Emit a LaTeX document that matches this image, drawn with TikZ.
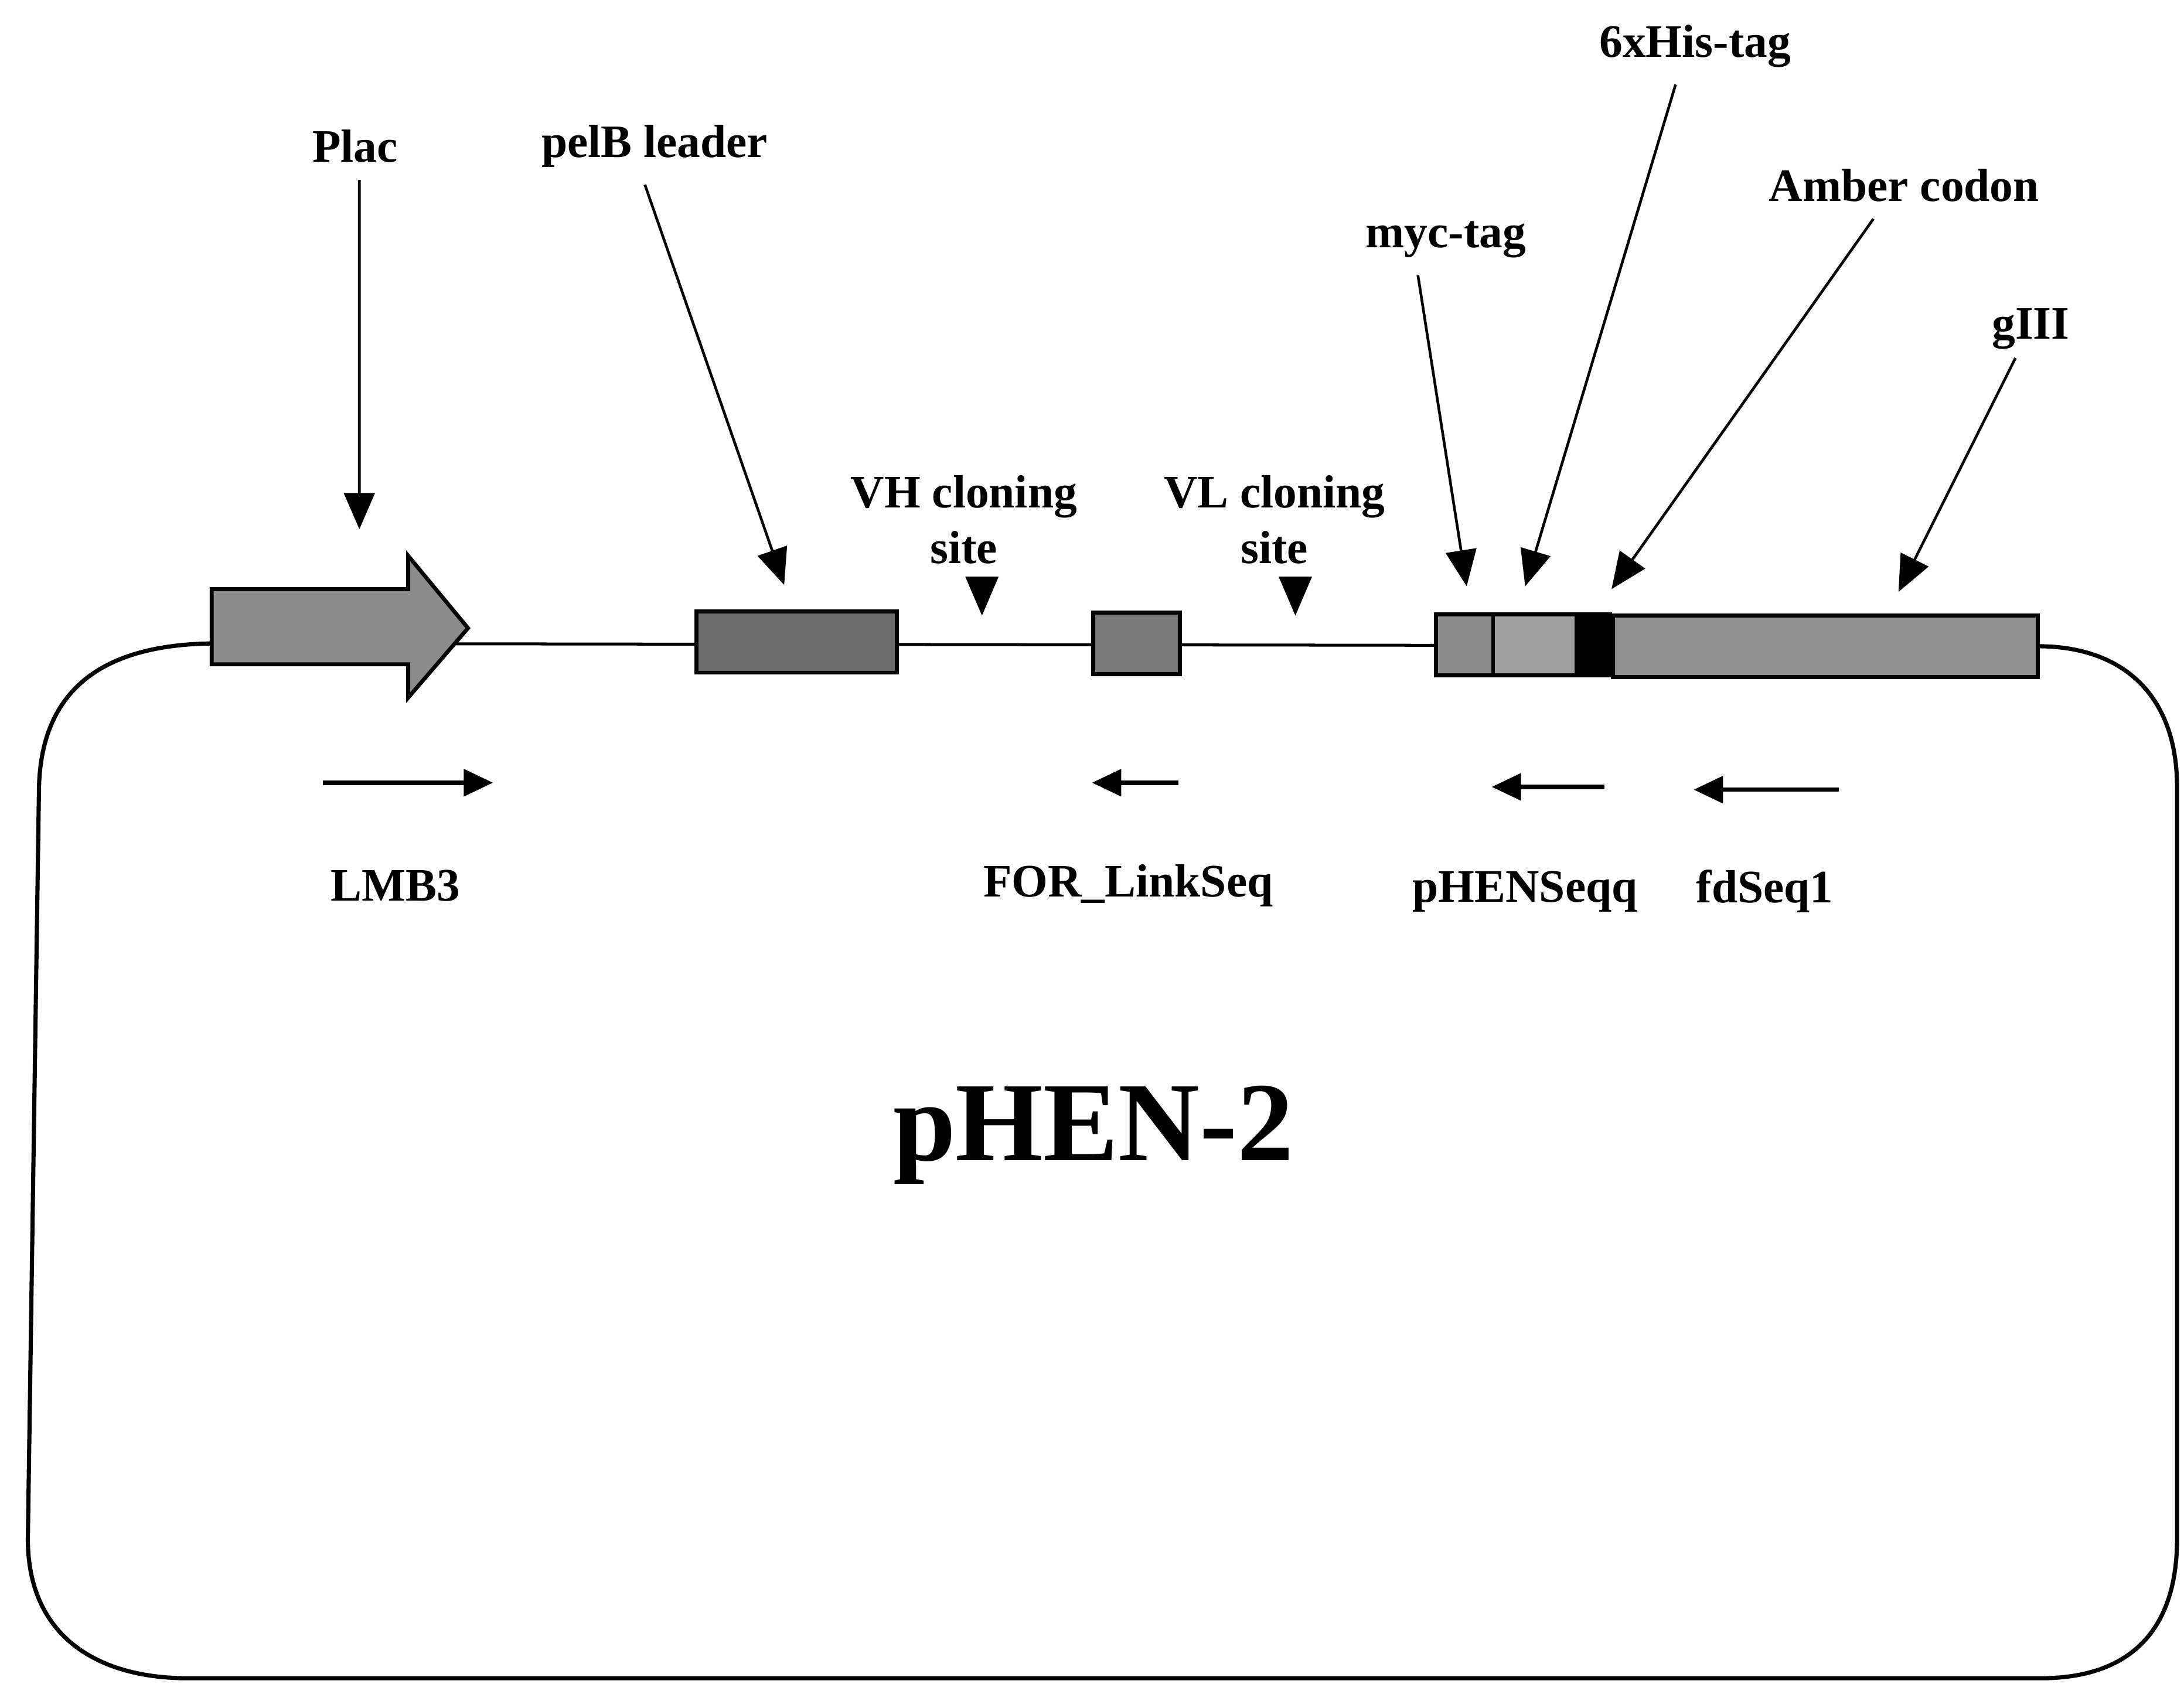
\documentclass[tikz,border=0pt]{standalone}
\usepackage{fontspec}
\setmainfont{Liberation Serif}
\usetikzlibrary{arrows.meta}

\definecolor{placgrey}{gray}{0.55}
\definecolor{pelbgrey}{gray}{0.42}
\definecolor{linkgrey}{gray}{0.48}
\definecolor{tailgrey}{gray}{0.56}

\begin{document}
\begin{tikzpicture}[x=0.01cm, y=-0.01cm, >={Triangle[length=0.26cm,width=0.22cm]},
        every node/.style={font=\bfseries\fontsize{9.5}{11.4}\selectfont},
        pointer/.style={->, line width=0.55pt},
        primer/.style={-{Triangle[length=0.21cm,width=0.19cm]}, line width=0.9pt},
        gene/.style={draw, line width=0.8pt, inner sep=0pt, minimum height=0.44cm}]
        \useasboundingbox (0,0) rectangle (1568,1209);
        % plasmid backbone
        \coordinate (bbL) at (152,462);
        \coordinate (bbR) at (1463,464);
        \draw[line width=0.6pt] (bbL) -- (bbR);
        \draw[line width=0.85pt] (bbL) .. controls (80,463) and (30,490) .. (28,565) -- (20,1105)
            .. controls (20,1175) and (70,1205) .. (135,1205) -- (1465,1205)
            .. controls (1530,1205) and (1563,1170) .. (1563,1105) -- (1563,565)
            .. controls (1563,500) and (1525,464) .. (bbR);
        % Plac promoter arrow
        \draw[line width=0.8pt, fill=placgrey] (152,423) -- (293,423) -- (293,399) -- (336,451)
            -- (293,501) -- (293,477) -- (152,477) -- cycle;
        % genes
        \node[gene, fill=pelbgrey, minimum width=1.44cm] (pelb) at (572,461) {};
        \node[gene, fill=linkgrey, minimum width=0.62cm] (link) at (816,462) {};
        \node[gene, fill=placgrey, minimum width=0.41cm] (myc) at (1051.5,463) {};
        \node[gene, fill=tailgrey!85, minimum width=0.60cm] (his) at (1102,463) {};
        \node[gene, fill=black, minimum width=0.24cm] (amber) at (1144,463) {};
        \node[gene, fill=tailgrey, minimum width=3.05cm] (g3) at (1310.5,464) {};
        % cloning sites
        \fill (693,414) -- (717,414) -- (705,442) -- cycle;
        \fill (918,414) -- (942,414) -- (930,442) -- cycle;
        \node[align=center] (vhsite) at (692,373) {VH cloning\\site};
        \node[align=center] (vlsite) at (915,373) {VL cloning\\site};
        % feature labels and pointers
        \node (placlbl) at (255,105) {Plac};
        \node (pelblbl) at (470,105) {pelB leader};
        \node (myclbl) at (1038,172) {myc-tag};
        \node (hislbl) at (1217,33) {6xHis-tag};
        \node (amberlbl) at (1367,133) {Amber codon};
        \node (g3lbl) at (1458,236) {gIII};
        \coordinate (placTip) at (258,380);
        \coordinate (pelbTip) at (563,420);
        \coordinate (mycTip) at (1053,421);
        \coordinate (hisTip) at (1095,421);
        \coordinate (amberTip) at (1157,423);
        \coordinate (g3Tip) at (1363,425);
        \draw[pointer] ([xshift=0.03cm]placlbl.south) -- (placTip);
        \draw[pointer] ([xshift=-0.07cm]pelblbl.south) -- (pelbTip);
        \draw[pointer] ([xshift=-0.2cm]myclbl.south) -- (mycTip);
        \draw[pointer] ([xshift=-0.14cm]hislbl.south) -- (hisTip);
        \draw[pointer] ([xshift=-0.22cm]amberlbl.south) -- (amberTip);
        \draw[pointer] ([xshift=-0.11cm,yshift=0.06cm]g3lbl.south) -- (g3Tip);
        % sequencing primers
        \coordinate (lmbA) at (232,562);   \coordinate (lmbB) at (354,562);
        \coordinate (forA) at (846,562);   \coordinate (forB) at (784,562);
        \coordinate (phenA) at (1152,565); \coordinate (phenB) at (1071,565);
        \coordinate (fdA) at (1320,567);   \coordinate (fdB) at (1216,567);
        \draw[primer] (lmbA) -- (lmbB);
        \draw[primer] (forA) -- (forB);
        \draw[primer] (phenA) -- (phenB);
        \draw[primer] (fdA) -- (fdB);
        \node (lmb3) at (284,636) {LMB3};
        \node (forlink) at (810,636) {FOR\_LinkSeq};
        \node (phenseq) at (1095,640) {pHENSeqq};
        \node (fdseq) at (1267,640) {fdSeq1};
        % vector name
        \node[font=\bfseries\fontsize{23}{27}\selectfont] (vector) at (785,815) {pHEN-2};
    \end{tikzpicture}
\end{document}
